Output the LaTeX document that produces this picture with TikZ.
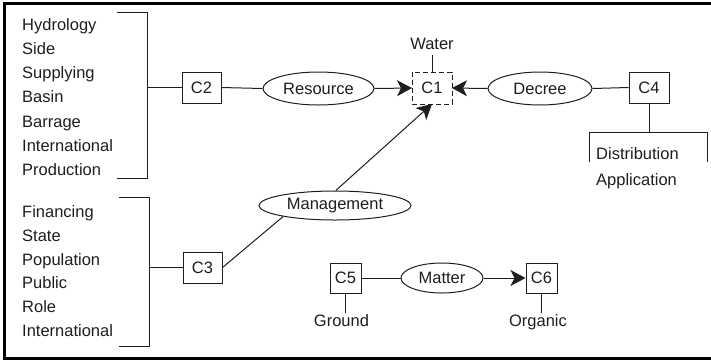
\documentclass[tikz,border=0pt]{standalone}
\usepackage{fontspec}
\setmainfont{Liberation Sans}
\usetikzlibrary{shapes.geometric,arrows.meta}
\definecolor{ink}{HTML}{1E1E1E}
\begin{document}
\begin{tikzpicture}[x=1pt,y=-1pt,
  txt/.style={font=\fontsize{16.5}{20}\selectfont, text=ink, inner sep=0pt},
  word/.style={txt, anchor=base west},
  tag/.style={txt, anchor=base},
  cbox/.style={txt, draw=ink, line width=1pt, minimum width=39pt, minimum height=31pt},
  rel/.style={txt, ellipse, draw=ink, line width=1pt, minimum height=32pt},
  link/.style={draw=ink, line width=1pt},
  tip/.style={-{Stealth[length=15pt,width=16pt,inset=4pt]}},
  frame/.style={draw=black, line width=3pt}
]
\useasboundingbox (0,0) rectangle (711,360);

% outer frame (open on the right)
\draw[frame] (711,3.3) -- (4.7,3.3) -- (4.7,358) -- (711,358);

% concept boxes
\node[cbox, draw=none] (c1) at (432,88) {C1};
\draw[ink, line width=1pt, dash pattern=on 5pt off 3pt] (c1.north west) rectangle (c1.south east);
\node[cbox] (c2) at (201.5,87.5) {C2};
\node[cbox] (c3) at (202.5,267.5) {C3};
\node[cbox, minimum width=40pt] (c4) at (649,87.5) {C4};
\node[cbox, minimum width=31pt, minimum height=30pt] (c5) at (345.5,278) {C5};
\node[cbox, minimum width=31pt, minimum height=30pt] (c6) at (541.5,278) {C6};

% relation ellipses
\node[rel, minimum width=111pt, minimum height=33pt] (res) at (318.5,88.5) {Resource};
\node[rel, minimum width=104pt, minimum height=33pt] (dec) at (540,88.5) {Decree};
\node[rel, minimum width=152pt, minimum height=29pt] (mgmt) at (335,205.5) {Management};
\node[rel, minimum width=82pt, minimum height=30pt] (mat) at (442,278) {Matter};

% single labels
\node[tag] (water) at (432,49.3) {Water};
\node[tag] (ground) at (341.5,326.7) {Ground};
\node[tag] (organic) at (538,326.7) {Organic};

% word lists
\foreach \w [count=\i] in {Hydrology,Side,Supplying,Basin,Barrage,International,Production}
  \node[word] (p\i) at (22,{30+(\i-1)*24.3}) {\w};
\foreach \w [count=\i] in {Financing,State,Population,Public,Role,International}
  \node[word] (q\i) at (22,{217.7+(\i-1)*23.7}) {\w};
\node[word] (d1) at (596,159.5) {Distribution};
\node[word] (d2) at (596,185) {Application};

% brackets
\draw[link] (117,12) -- (147,12) -- (147,178) -- (117,178);
\draw[link] (119,197) -- (149,197) -- (149,346.7) -- (119,346.7);
\draw[link] (589,162) -- (589,132) -- (707,132) -- (707,162);
\coordinate (b1) at (147,87.5);
\coordinate (b2) at (149,267.5);
\coordinate (b3) at (649,132);

% connectors
\draw[link] (b1) -- (c2.west);
\draw[link] (c2.east) -- (res.west);
\draw[link, tip] (res.east) -- (c1.west);
\draw[link, tip] (dec.west) -- (c1.east);
\draw[link] (dec.east) -- (c4.west);
\draw[link] (c4.south) -- (b3);
\draw[link] ([yshift=-5pt]water.south) -- (c1.north);
\draw[link] (b2) -- (c3.west);
\draw[link] (c3.east) -- (mgmt.192);
\draw[link, tip] (mgmt.87) -- (c1.south);
\draw[link] (c5.east) -- (mat.west);
\draw[link, tip] (mat.east) -- (c6.west);
\draw[link] (c5.south) -- ([yshift=1.5pt]c5.south |- ground.north);
\draw[link] (c6.south) -- ([yshift=1.5pt]c6.south |- organic.north);
\end{tikzpicture}
\end{document}
